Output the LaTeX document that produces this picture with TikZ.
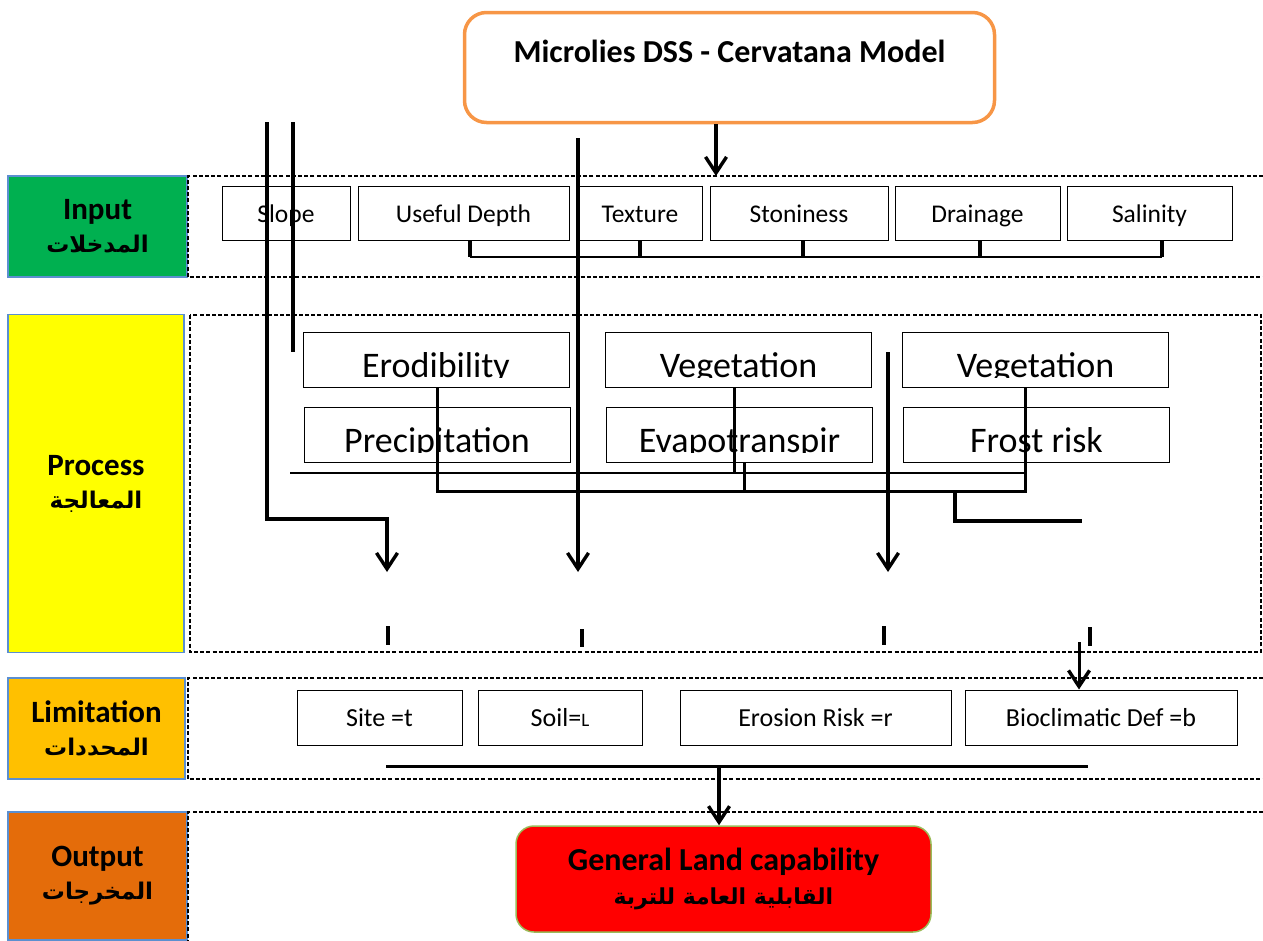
\documentclass[tikz,border=0pt]{standalone}
\usepackage{fontspec}
\setmainfont{Carlito}
\newfontfamily\arabicfont[Script=Arabic]{DejaVu Sans}
\usetikzlibrary{arrows.meta}
\TeXXeTstate=1
\definecolor{inGreen}{HTML}{00B050}
\definecolor{prYellow}{HTML}{FFFF00}
\definecolor{limOrange}{HTML}{FFC000}
\definecolor{outBrown}{HTML}{E46C0A}
\definecolor{labBlue}{HTML}{5B8FD0}
\definecolor{topOrange}{HTML}{F79646}
\definecolor{outRed}{HTML}{FF0000}
\definecolor{outGreen}{HTML}{9BBB59}
\newcommand\artext[1]{{\arabicfont\bfseries\beginR #1\endR}}
\newcommand\pnode[3]{%
  \node[pbox] (#1) at (#2) {};
  \begin{scope}
    \clip (#1.north west) rectangle ([yshift=10pt]#1.south east);
    \node[ptext] (#1t) at ([yshift=10pt]#1.south) {#3};
  \end{scope}}
\begin{document}
\begin{tikzpicture}[x=1pt,y=-1pt,
  labbox/.style={draw=labBlue, line width=1.3pt, align=center, inner sep=0pt,
    font=\fontsize{31}{33}\selectfont\bfseries},
  band/.style={line width=1.3pt, dash pattern=on 4pt off 2.2pt},
  ibox/.style={draw, line width=1pt, inner sep=0pt, minimum height=54pt,
    text height=21pt, text depth=3pt, font=\fontsize{25.5}{30}\selectfont},
  pbox/.style={draw, line width=1pt, inner sep=0pt, minimum width=266pt, minimum height=55pt},
  ptext/.style={anchor=base, inner sep=0pt, font=\fontsize{36}{40}\selectfont},
  lbox/.style={draw, line width=1pt, inner sep=0pt, minimum height=55pt,
    text height=20pt, text depth=3pt, font=\fontsize{26}{30}\selectfont},
  heavy/.style={line width=4pt},
  medium/.style={line width=3pt},
  light/.style={line width=2pt},
  arr/.style={-{Straight Barb[length=16pt,width=21pt,line width=3.4pt]}}]
\useasboundingbox (0,0) rectangle (1263,940);

% side labels
\node[labbox, fill=inGreen, minimum width=179pt, minimum height=101pt] (inlab) at (97.5,226.5)
  {Input\\\artext{\fontsize{23}{26}\selectfont المدخلات}};
\node[labbox, fill=prYellow, minimum width=176pt, minimum height=338pt] (prlab) at (96,483.5)
  {Process\\\artext{\fontsize{23}{26}\selectfont المعالجة}};
\node[labbox, fill=limOrange, minimum width=177pt, minimum height=101pt] (limlab) at (96.5,728.5)
  {Limitation\\\artext{\fontsize{23}{26}\selectfont المحددات}};
\node[labbox, fill=outBrown, minimum width=179pt, minimum height=128pt] (outlab) at (97.5,876)
  {Output\\\artext{\fontsize{23}{26}\selectfont المخرجات}};

% dashed bands
\draw[band] (1263,176) -- (188,176) -- (188,277) -- (1263,277);
\draw[band] (190,315) rectangle (1261,652);
\draw[band] (1263,678) -- (188,678) -- (188,779) -- (1263,779);
\draw[band] (1263,812) -- (188,812) -- (188,940);

% top box
\node[draw=topOrange, line width=3.5pt, rounded corners=22pt, minimum width=530pt,
  minimum height=110pt, inner sep=0pt] (top) at (729.5,67.5) {};
\node[font=\fontsize{32}{38}\selectfont\bfseries] (title) at (729.5,51) {Microlies DSS - Cervatana Model};

% input boxes
\node[ibox, minimum width=128pt] (slope) at (286,213) {Slope};
\node[ibox, minimum width=211pt] (ud) at (463.5,213) {Useful Depth};
\node[ibox, minimum width=124pt] (tex) at (640,213) {Texture};
\node[ibox, minimum width=178pt] (ston) at (799,213) {Stoniness};
\node[ibox, minimum width=165pt] (drain) at (977.5,213) {Drainage};
\node[ibox, minimum width=165pt] (sal) at (1149.5,213) {Salinity};

% process boxes
\pnode{ero}{436,359.5}{Erodibility}
\pnode{veg1}{738.5,359.5}{Vegetation}
\pnode{veg2}{1035.5,359.5}{Vegetation}
\pnode{prec}{437,434.5}{Precipitation}
\pnode{evap}{739.5,434.5}{Evapotranspir}
\pnode{frost}{1036.5,434.5}{Frost risk}

% limitation boxes
\node[lbox, minimum width=165pt] (site) at (379.5,717.5) {Site =t};
\node[lbox, minimum width=164pt] (soil) at (560,717.5) {Soil={\fontsize{19}{20}\selectfont L}};
\node[lbox, minimum width=271pt] (eros) at (815.5,717.5) {Erosion Risk =r};
\node[lbox, minimum width=272pt] (bio) at (1101,717.5) {Bioclimatic Def =b};

% output box
\node[draw=outGreen, line width=1.5pt, fill=outRed, rounded corners=18pt, minimum width=415pt,
  minimum height=106pt, align=center, font=\fontsize{32}{34}\selectfont\bfseries] (out) at (723.5,879)
  {General Land capability\\\artext{\fontsize{22}{26}\selectfont القابلية العامة للتربة}};

% free ends
\coordinate (a1) at (267,122);
\coordinate (a2) at (293,122);
\coordinate (a3) at (578,138);
\coordinate (a4) at (888,352);

% connectors
\draw[heavy, arr] (716,0 |- top.south) -- (716,176);
\draw[heavy, arr] (a1) -- (267,519) -- (387,519) -- (387,572);
\draw[heavy] (a2) -- (293,352);
\draw[heavy, arr] (a3) -- (578,572);
\draw[heavy, arr] (a4) -- (888,572);

% input bracket
\draw[line width=2.5pt] (470,257) -- (1162,257);
\draw[heavy] (470,0 |- ud.south) -- (470,257);
\draw[heavy] (640,0 |- tex.south) -- (640,257);
\draw[heavy] (803,0 |- ston.south) -- (803,257);
\draw[heavy] (980,0 |- drain.south) -- (980,257);
\draw[heavy] (1162,0 |- sal.south) -- (1162,257);

% process connectors
\draw[medium] (437,0 |- ero.south) -- (437,491) -- (1025,491) -- (1025,0 |- veg2.south);
\draw[medium] (734,0 |- veg1.south) -- (734,473);
\draw[medium] (744,0 |- evap.south) -- (744,491);
\draw[light] (290,473) -- (1025,473);
\draw[heavy] (955,491) -- (955,521) -- (1082,521);

% small ticks
\draw[heavy] (388,626) -- (388,645);
\draw[heavy] (582,629) -- (582,647);
\draw[heavy] (884,626) -- (884,645);
\draw[heavy] (1090,627) -- (1090,646);
\draw[medium, arr] (1079,642) -- (1079,0 |- bio.north);

% limitation to output
\draw[medium] (386,766) -- (1088,766);
\draw[heavy, arr] (719,766) -- (719,0 |- out.north);
\end{tikzpicture}
\end{document}
